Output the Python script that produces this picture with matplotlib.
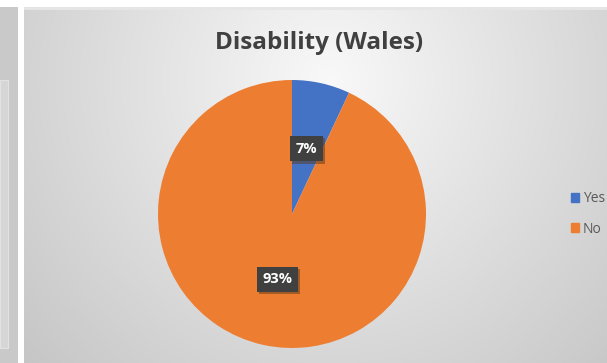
import numpy as np
import matplotlib.pyplot as plt
import matplotlib.patheffects as pe
from matplotlib.patches import Rectangle

# Disability split for Wales
categories = ['Yes', 'No']
shares = [7, 93]
colors = ['#4472C4', '#ED7D31']
title = 'Disability (Wales)'

W, H = 607, 363
plt.rcParams['font.family'] = ['Open Sans', 'DejaVu Sans']


def px_axes(fig, x0, y0, x1, y1):
    # axes from pixel box (top-left origin)
    return fig.add_axes([x0 / W, 1 - y1 / H, (x1 - x0) / W, (y1 - y0) / H])


def main():
    fig = plt.figure(figsize=(W / 100, H / 100), dpi=100, facecolor='white')

    # neighbouring chart edge on the left
    side = px_axes(fig, 0, 7, 18, H)
    side.set_xlim(0, 18)
    side.set_ylim(H, 7)
    side.add_patch(Rectangle((0, 7), 18, H, color='#c9c9c9'))
    side.add_patch(Rectangle((0, 80), 8, 268, facecolor='#d6d6d6', edgecolor='#e2e2e2', lw=0.8))
    side.axis('off')

    # main chart panel with radial grey gradient
    bg = px_axes(fig, 24, 7, W, H)
    xs = np.arange(24, W)
    ys = np.arange(7, H)
    gx, gy = np.meshgrid(xs, ys)
    d = np.hypot(gx - 330, gy - 80) / 417.0
    shade = np.clip(0.975 - 0.2 * d, 0.74, 1.0)
    bg.imshow(np.dstack([shade] * 3), aspect='auto', extent=(24, W, H, 7), interpolation='bilinear')
    bg.axhline(7.8, color='#e6e6e6', lw=2)
    bg.set_xlim(24, W)
    bg.set_ylim(H, 7)
    bg.axis('off')

    fig.text(319 / W, 1 - 43 / H, title, ha='center', va='center',
             fontsize=17.5, fontweight='bold', color='#404040')

    # pie
    ax = px_axes(fig, 158, 80, 426, 348)
    wedges, texts, autotexts = ax.pie(
        shares, colors=colors, startangle=90, counterclock=False,
        autopct='%1.0f%%', pctdistance=0.5,
        wedgeprops=dict(linewidth=0))
    ax.set_xlim(-1, 1)
    ax.set_ylim(-1, 1)
    ax.set_aspect('equal')
    for t in autotexts:
        t.set_color('white')
        t.set_fontweight('bold')
        t.set_fontsize(10.5)
        t.set_bbox(dict(boxstyle='square,pad=0.4', facecolor='#404040', edgecolor='none'))
        t.get_bbox_patch().set_path_effects(
            [pe.SimplePatchShadow(offset=(1.5, -1.5), shadow_rgbFace='#5a3a1a', alpha=0.5), pe.Normal()])

    handles = [Rectangle((0, 0), 1, 1, color=c) for c in colors]
    fig.legend(handles, categories, loc='center left',
               bbox_to_anchor=(558 / W, 1 - 214 / H), frameon=False,
               fontsize=10, labelcolor='#595959', handlelength=0.6, handleheight=0.6,
               handletextpad=0.3, labelspacing=1.1)

    fig.savefig('out.png', dpi=100, facecolor='white')
    plt.close(fig)


if __name__ == '__main__':
    main()
